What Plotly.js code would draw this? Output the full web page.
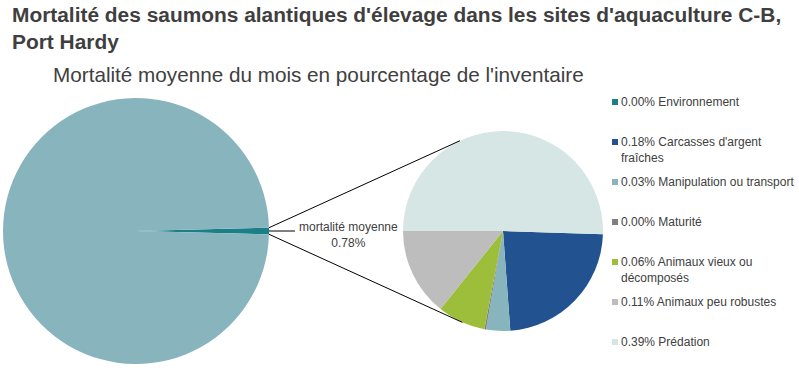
<!DOCTYPE html>
<html>
<head>
<meta charset="utf-8">
<script src="https://cdn.plot.ly/plotly-3.0.1.min.js"></script>
<style>html,body{margin:0;padding:0;background:#fff;}#chart{width:799px;height:371px;}</style>
</head>
<body>
<div id="chart"></div>
<script>
// Overall pie (percentage of inventory)
const overallLabels = ["mortalité moyenne", "inventaire restant"];
const overallValues = [0.78, 99.22];

// Breakdown of the average mortality (%)
const causeNames = ["Environnement", "Carcasses d'argent<br>fraîches", "Manipulation ou transport", "Maturité", "Animaux vieux ou<br>décomposés", "Animaux peu robustes", "Prédation"];
const causeValues = [0.0, 0.18, 0.03, 0.002, 0.06, 0.11, 0.39];
const causeColors = ["#1b7f87", "#22528f", "#88b5bd", "#7f7f7f", "#9dbe3a", "#bdbdbd", "#d6e6e4"];

const W = 799, H = 371;
const bigPx = {x0: 3, x1: 269, y0: 98, y1: 364};
const smallPx = {x0: 403, x1: 603, y0: 131, y1: 331};
const dom = p => ({x: [p.x0 / W, p.x1 / W], y: [1 - p.y1 / H, 1 - p.y0 / H]});
const px = (x) => x / W, py = (y) => 1 - y / H;

const causeLabels = causeValues.map((v, i) => v.toFixed(2) + '% ' + causeNames[i]);
const causeTotal = causeValues.reduce((a, b) => a + b, 0);
const beforePred = causeValues.slice(0, causeValues.length - 1).reduce((a, b) => a + b, 0);
const smallRotation = 270 - beforePred / causeTotal * 360;
const bigRotation = 90 - overallValues[0] / (overallValues[0] + overallValues[1]) * 360 / 2;

const traces = [
  {
    type: 'pie', labels: overallLabels, values: overallValues, sort: false,
    direction: 'clockwise', rotation: bigRotation, domain: dom(bigPx),
    marker: {colors: ["#1b7f87", "#88b5bd"], line: {width: 0}},
    textinfo: 'none', hoverinfo: 'none', showlegend: false
  },
  {
    type: 'pie', labels: causeLabels, values: causeValues, sort: false,
    direction: 'clockwise', rotation: smallRotation, domain: dom(smallPx),
    marker: {colors: causeColors, line: {width: 0}},
    textinfo: 'none', hoverinfo: 'none', showlegend: false
  }
];

// connector geometry derived from pie domains
const bcx = (bigPx.x0 + bigPx.x1) / 2, bcy = (bigPx.y0 + bigPx.y1) / 2, br = (bigPx.x1 - bigPx.x0) / 2;
const scx = (smallPx.x0 + smallPx.x1) / 2, scy = (smallPx.y0 + smallPx.y1) / 2, sr = (smallPx.x1 - smallPx.x0) / 2;
const half = overallValues[0] / (overallValues[0] + overallValues[1]) * Math.PI;
const ex = bcx + br * Math.cos(half), eyTop = bcy - br * Math.sin(half), eyBot = bcy + br * Math.sin(half);
const aTop = -115.5 * Math.PI / 180, aBot = 114 * Math.PI / 180;
const lineStyle = {color: '#000000', width: 1};
const shapes = [
  {type: 'line', xref: 'paper', yref: 'paper', x0: px(ex), y0: py(eyTop), x1: px(scx + sr * Math.cos(aTop)), y1: py(scy + sr * Math.sin(aTop)), line: lineStyle},
  {type: 'line', xref: 'paper', yref: 'paper', x0: px(ex), y0: py(eyBot), x1: px(scx + sr * Math.cos(aBot)), y1: py(scy + sr * Math.sin(aBot)), line: lineStyle},
  {type: 'line', xref: 'paper', yref: 'paper', x0: px(bcx + br), y0: py(bcy), x1: px(bcx + br + 26), y1: py(bcy), line: lineStyle}
];

const annotations = [
  {text: "Mortalité moyenne du mois en pourcentage de l'inventaire", xref: 'paper', yref: 'paper',
   x: px(51), y: py(75), xanchor: 'left', yanchor: 'middle', showarrow: false,
   font: {size: 20.7, color: '#404040'}},
  {text: overallLabels[0] + '<br>' + overallValues[0].toFixed(2) + '%', xref: 'paper', yref: 'paper',
   x: px(348), y: py(235), xanchor: 'center', yanchor: 'middle', showarrow: false,
   font: {size: 12, color: '#404040'}}
];

// legend (manual, to reproduce the reference spacing)
const legTop = 102, legStep = 40, legX = 612, legBox = 6;
causeLabels.forEach((lab, i) => {
  const cy = legTop + i * legStep;
  shapes.push({type: 'rect', xref: 'paper', yref: 'paper',
    x0: px(legX), x1: px(legX + legBox), y0: py(cy - legBox / 2), y1: py(cy + legBox / 2),
    fillcolor: causeColors[i], line: {width: 0}});
  annotations.push({text: lab, xref: 'paper', yref: 'paper', x: px(legX + legBox + 1), y: py(cy - 9),
    xanchor: 'left', yanchor: 'top', align: 'left', showarrow: false,
    font: {size: 12, color: '#404040'}});
});

const layout = {
  width: W, height: H,
  margin: {l: 0, r: 0, t: 0, b: 0},
  paper_bgcolor: '#ffffff',
  font: {family: 'Liberation Sans, Arial, sans-serif', color: '#404040'},
  showlegend: false,
  title: {
    text: "<b>Mortalité des saumons alantiques d'élevage dans les sites d'aquaculture C-B,<br>Port Hardy</b>",
    font: {size: 20.9, color: '#3f3f3f', family: 'Liberation Sans, Arial, sans-serif'},
    xref: 'container', yref: 'container',
    x: px(12), xanchor: 'left', y: py(22), yanchor: 'top'
  },
  annotations: annotations,
  shapes: shapes
};

Plotly.newPlot('chart', traces, layout, {displayModeBar: false, staticPlot: true});
</script>
</body>
</html>
